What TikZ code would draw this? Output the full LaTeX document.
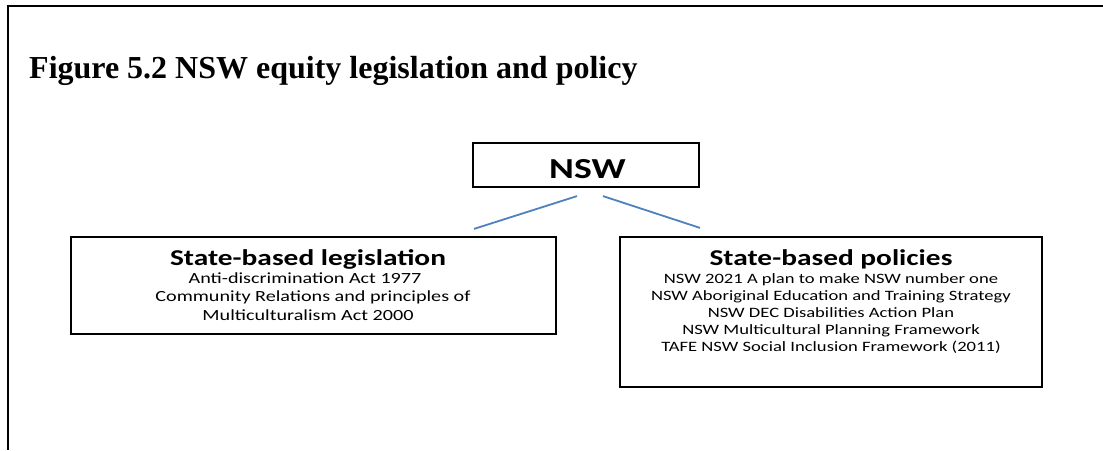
\documentclass[tikz,border=0pt]{standalone}
\usepackage{fontspec}
\setmainfont{Liberation Serif}
\newfontfamily\boxfont[FakeStretch=1.3]{Carlito}
\usetikzlibrary{shadows,calc}
\definecolor{linkblue}{RGB}{79,129,189}
\begin{document}
\begin{tikzpicture}[x=1pt,y=-1pt,
  frame/.style={line width=2pt,black,line join=miter},
  panel/.style={draw=black,line width=2.2pt,fill=white,inner sep=0pt,rectangle,
    drop shadow={shadow xshift=1.3pt,shadow yshift=-1.3pt,opacity=0.3,fill=black}},
  link/.style={draw=linkblue,line width=1.8pt},
  boxtitle/.style={anchor=base,inner sep=0pt,font=\boxfont\bfseries\fontsize{22.6}{26}\selectfont},
  toptitle/.style={anchor=base,inner sep=0pt,font=\boxfont\bfseries\fontsize{29}{34}\selectfont},
  lefttext/.style={anchor=base,inner sep=0pt,font=\boxfont\fontsize{15.5}{18.5}\selectfont},
  righttext/.style={anchor=base,inner sep=0pt,font=\boxfont\fontsize{14.3}{17}\selectfont},
  caption/.style={anchor=base west,inner sep=0pt,font=\bfseries\fontsize{32}{38}\selectfont}]
\useasboundingbox (0,0) rectangle (1103,450);
\fill[white] (0,0) rectangle (1103,450);

% page frame (top and left edges)
\draw[frame] (1103,5.5) -- (7.5,5.5) -- (7.5,450);

% figure caption
\node[caption] (title) at (29,78) {Figure 5.2 NSW equity legislation and policy};

% boxes
\node[panel,minimum width=226pt,minimum height=44pt] (nsw) at (586,165) {};
\node[panel,minimum width=485pt,minimum height=97pt] (lbox) at (313.5,285.5) {};
\node[panel,minimum width=422pt,minimum height=150pt] (rbox) at (831,312) {};

% top box label
\node[toptitle] (nswlabel) at (587.5,178) {NSW};

% legislation box
\node[boxtitle] (lhead) at (308,265) {State-based legislation};
\node[lefttext] (l1) at (305,283) {Anti-discrimination Act 1977};
\node[lefttext] (l2) at (313,301.5) {Community Relations and principles of};
\node[lefttext] (l3) at (308,320) {Multiculturalism Act 2000};

% policy box
\node[boxtitle] (rhead) at (831,265) {State-based policies};
\node[righttext] (r1) at (831,283) {NSW 2021 A plan to make NSW number one};
\node[righttext] (r2) at (831,300.5) {NSW Aboriginal Education and Training Strategy};
\node[righttext] (r3) at (831,317.5) {NSW DEC Disabilities Action Plan};
\node[righttext] (r4) at (831,334.5) {NSW Multicultural Planning Framework};
\node[righttext] (r5) at (831,351.5) {TAFE NSW Social Inclusion Framework (2011)};

% connectors
\coordinate (ls) at ($(nsw.south)+(-9,8)$);
\coordinate (le) at ($(lbox.north)+(160.5,-7)$);
\coordinate (rs) at ($(nsw.south)+(17,8)$);
\coordinate (re) at ($(rbox.north)+(-131,-8)$);
\draw[link] (ls) -- (le);
\draw[link] (rs) -- (re);
\end{tikzpicture}
\end{document}
